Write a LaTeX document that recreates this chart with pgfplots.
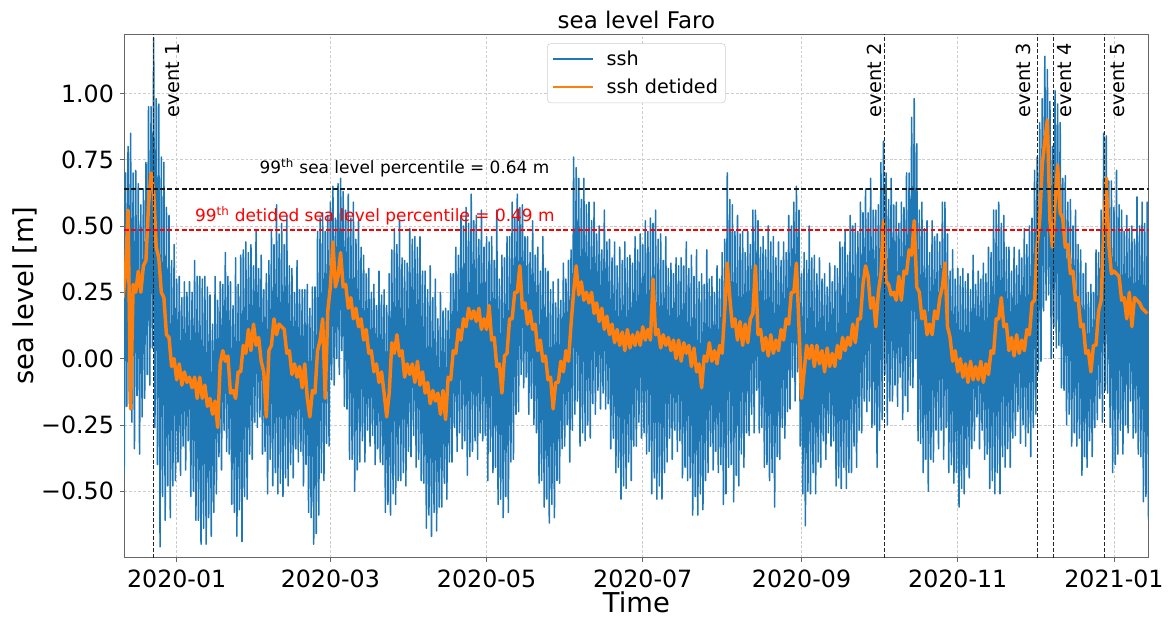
\documentclass[border=0pt]{standalone}
\usepackage{fontspec}
\setmainfont{DejaVu Sans}
\usepackage{pgfplots}
\pgfplotsset{compat=1.18}
\definecolor{tabblue}{HTML}{1F77B4}
\definecolor{taborange}{HTML}{FF7F0E}
\begin{document}
\begin{tikzpicture}
\useasboundingbox (-93.15pt,-46.1pt) rectangle (782.8pt,418.1pt);
\begin{axis}[
  at={(0pt,0pt)}, anchor=south west,
  scale only axis, width=768.2pt, height=392.6pt,
  xmin=-20.5, xmax=379.5, ymin=-0.75, ymax=1.224,
  axis line style={black!60, line width=0.6pt},
  xtick={0,60,121,182,244,305,366},
  xticklabels={2020-01,2020-03,2020-05,2020-07,2020-09,2020-11,2021-01},
  ytick={-0.5,-0.25,0,0.25,0.5,0.75,1},
  yticklabels={−0.50,−0.25,0.00,0.25,0.50,0.75,1.00},
  tick align=outside, xtick pos=left, ytick pos=left,
  major tick length=3pt,
  tick style={black!60, line width=0.6pt},
  grid=major,
  major grid style={gray!40, line width=0.5pt, dash pattern=on 2.2pt off 1.3pt},
  xticklabel style={font=\fontsize{17.8pt}{20pt}\selectfont, anchor=base, yshift=-19.35pt, inner sep=0pt},
  yticklabel style={font=\fontsize{17.8pt}{20pt}\selectfont, anchor=east, inner sep=0pt, xshift=-4.5pt},
  title={sea level Faro},
  every axis title/.style={at={(axis description cs:0.5,1.011)}, anchor=base, font=\fontsize{17.2pt}{20pt}\selectfont},
  xlabel={Time},
  every axis x label/.style={at={(axis description cs:0.5,-0.1055)}, anchor=base, font=\fontsize{20.5pt}{24pt}\selectfont},
  ylabel={sea level [m]},
  every axis y label/.style={at={(axis description cs:-0.0888,0.5)}, rotate=90, anchor=base, font=\fontsize{20.5pt}{24pt}\selectfont},
  legend style={at={(axis description cs:0.5,0.9822)}, anchor=north, draw=black!20, rounded corners=2.5pt, fill=white, font=\fontsize{14.4pt}{17pt}\selectfont, inner xsep=3.5pt, inner ysep=3.5pt, row sep=4.5pt, column sep=7.5pt},
  legend cell align=left,
  legend image code/.code={\draw[#1, line width=1.4pt] (0pt,0pt) -- (30pt,0pt);},
]
\addplot[tabblue, line width=1.15pt, line join=round] coordinates {
(-21,.74)(-20.5,-.43)(-20,.70)(-19.5,-.18)(-19,.80)(-18.5,-.17)(-18,.85)(-17.5,-.24)(-17,.70)(-16.5,-.34)
(-16,.71)(-15.5,-.14)(-15,.66)(-14.5,-.36)(-14,.58)(-13.5,-.22)(-13,.64)(-12.5,-.15)(-12,.74)(-11.5,-.06)
(-11,.95)(-10.5,-.10)(-10,.95)(-9.5,.04)(-9,1.21)(-8.5,-.26)(-8,.98)(-7.5,-.40)(-7,.96)(-6.5,-.71)
(-6,.76)(-5.5,-.52)(-5,.74)(-4.5,-.61)(-4,.57)(-3.5,-.48)(-3,.54)(-2.5,-.60)(-2,.37)(-1.5,-.48)
(-1,.43)(-0.5,-.46)(0,.30)(0.5,-.39)(1,.31)(1.5,-.44)(2,.23)(2.5,-.33)(3,.29)(3.5,-.42)
(4,.25)(4.5,-.31)(5,.29)(5.5,-.52)(6,.25)(6.5,-.50)(7,.37)(7.5,-.61)(8,.31)(8.5,-.61)
(9,.31)(9.5,-.70)(10,.30)(10.5,-.64)(11,.31)(11.5,-.70)(12,.27)(12.5,-.60)(13,.24)(13.5,-.67)
(14,.13)(14.5,-.58)(15,.31)(15.5,-.51)(16,.22)(16.5,-.37)(17,.29)(17.5,-.42)(18,.28)(18.5,-.27)
(19,.40)(19.5,-.35)(20,.31)(20.5,-.36)(21,.29)(21.5,-.55)(22,.20)(22.5,-.58)(23,.38)(23.5,-.67)
(24,.28)(24.5,-.57)(25,.39)(25.5,-.69)(26,.41)(26.5,-.52)(27,.44)(27.5,-.53)(28,.40)(28.5,-.36)
(29,.43)(29.5,-.38)(30,.35)(30.5,-.24)(31,.48)(31.5,-.26)(32,.34)(32.5,-.22)(33,.39)(33.5,-.36)
(34,.26)(34.5,-.35)(35,.32)(35.5,-.51)(36,.37)(36.5,-.38)(37,.48)(37.5,-.48)(38,.43)(38.5,-.43)
(39,.58)(39.5,-.51)(40,.47)(40.5,-.47)(41,.51)(41.5,-.52)(42,.43)(42.5,-.45)(43,.54)(43.5,-.48)
(44,.35)(44.5,-.40)(45,.34)(45.5,-.45)(46,.25)(46.5,-.34)(47,.37)(47.5,-.39)(48,.26)(48.5,-.35)
(49,.26)(49.5,-.48)(50,.26)(50.5,-.40)(51,.28)(51.5,-.58)(52,.19)(52.5,-.60)(53,.27)(53.5,-.70)
(54,.27)(54.5,-.66)(55,.48)(55.5,-.59)(56,.53)(56.5,-.43)(57,.55)(57.5,-.46)(58,.48)(58.5,-.32)
(59,.54)(59.5,-.33)(60,.59)(60.5,-.08)(61,.65)(61.5,-.10)(62,.53)(62.5,.00)(63,.66)(63.5,-.06)
(64,.68)(64.5,.03)(65,.63)(65.5,-.18)(66,.56)(66.5,-.19)(67,.62)(67.5,-.38)(68,.53)(68.5,-.38)
(69,.59)(69.5,-.50)(70,.45)(70.5,-.42)(71,.52)(71.5,-.39)(72,.42)(72.5,-.31)(73,.39)(73.5,-.39)
(74,.32)(74.5,-.27)(75,.34)(75.5,-.33)(76,.25)(76.5,-.29)(77,.28)(77.5,-.40)(78,.20)(78.5,-.34)
(79,.33)(79.5,-.39)(80,.24)(80.5,-.40)(81,.26)(81.5,-.58)(82,.20)(82.5,-.55)(83,.32)(83.5,-.59)
(84,.41)(84.5,-.51)(85,.49)(85.5,-.55)(86,.43)(86.5,-.46)(87,.52)(87.5,-.46)(88,.38)(88.5,-.43)
(89,.37)(89.5,-.48)(90,.36)(90.5,-.35)(91,.49)(91.5,-.37)(92,.45)(92.5,-.29)(93,.46)(93.5,-.41)
(94,.42)(94.5,-.38)(95,.46)(95.5,-.46)(96,.33)(96.5,-.47)(97,.33)(97.5,-.64)(98,.26)(98.5,-.59)
(99,.35)(99.5,-.67)(100,.23)(100.5,-.58)(101,.30)(101.5,-.65)(102,.15)(102.5,-.56)(103,.25)(103.5,-.56)
(104,.18)(104.5,-.47)(105,.19)(105.5,-.53)(106,.18)(106.5,-.39)(107,.32)(107.5,-.39)(108,.32)(108.5,-.26)
(109,.42)(109.5,-.35)(110,.39)(110.5,-.28)(111,.54)(111.5,-.34)(112,.50)(112.5,-.31)(113,.57)(113.5,-.44)
(114,.51)(114.5,-.37)(115,.62)(115.5,-.35)(116,.52)(116.5,-.31)(117,.54)(117.5,-.38)(118,.45)(118.5,-.28)
(119,.56)(119.5,-.31)(120,.42)(120.5,-.29)(121,.46)(121.5,-.46)(122,.44)(122.5,-.35)(123,.46)(123.5,-.43)
(124,.37)(124.5,-.41)(125,.56)(125.5,-.55)(126,.30)(126.5,-.53)(127,.39)(127.5,-.60)(128,.38)(128.5,-.52)
(129,.46)(129.5,-.58)(130,.46)(130.5,-.39)(131,.59)(131.5,-.38)(132,.53)(132.5,-.21)(133,.62)(133.5,-.20)
(134,.57)(134.5,-.06)(135,.58)(135.5,-.11)(136,.46)(136.5,-.07)(137,.46)(137.5,-.21)(138,.40)(138.5,-.15)
(139,.52)(139.5,-.25)(140,.39)(140.5,-.28)(141,.42)(141.5,-.47)(142,.33)(142.5,-.46)(143,.46)(143.5,-.56)
(144,.34)(144.5,-.53)(145,.33)(145.5,-.62)(146,.26)(146.5,-.55)(147,.29)(147.5,-.60)(148,.21)(148.5,-.46)
(149,.30)(149.5,-.47)(150,.22)(150.5,-.34)(151,.36)(151.5,-.33)(152,.30)(152.5,-.25)(153,.37)(153.5,-.39)
(154,.41)(154.5,-.27)(155,.76)(155.5,-.21)(156,.72)(156.5,-.16)(157,.68)(157.5,-.33)(158,.60)(158.5,-.28)
(159,.68)(159.5,-.31)(160,.58)(160.5,-.25)(161,.59)(161.5,-.30)(162,.52)(162.5,-.17)(163,.59)(163.5,-.21)
(164,.47)(164.5,-.12)(165,.50)(165.5,-.19)(166,.41)(166.5,-.13)(167,.56)(167.5,-.19)(168,.44)(168.5,-.17)
(169,.45)(169.5,-.34)(170,.38)(170.5,-.30)(171,.44)(171.5,-.43)(172,.35)(172.5,-.41)(173,.42)(173.5,-.53)
(174,.37)(174.5,-.48)(175,.44)(175.5,-.49)(176,.38)(176.5,-.39)(177,.39)(177.5,-.46)(178,.36)(178.5,-.33)
(179,.46)(179.5,-.33)(180,.41)(180.5,-.24)(181,.47)(181.5,-.30)(182,.43)(182.5,-.28)(183,.52)(183.5,-.36)
(184,.48)(184.5,-.35)(185,.53)(185.5,-.51)(186,.51)(186.5,-.45)(187,.56)(187.5,-.53)(188,.45)(188.5,-.48)
(189,.47)(189.5,-.53)(190,.37)(190.5,-.43)(191,.46)(191.5,-.39)(192,.34)(192.5,-.30)(193,.36)(193.5,-.38)
(194,.32)(194.5,-.27)(195,.38)(195.5,-.35)(196,.35)(196.5,-.31)(197,.38)(197.5,-.45)(198,.35)(198.5,-.41)
(199,.44)(199.5,-.46)(200,.34)(200.5,-.45)(201,.39)(201.5,-.59)(202,.31)(202.5,-.52)(203,.41)(203.5,-.59)
(204,.29)(204.5,-.51)(205,.32)(205.5,-.57)(206,.28)(206.5,-.46)(207,.41)(207.5,-.43)(208,.30)(208.5,-.33)
(209,.31)(209.5,-.42)(210,.25)(210.5,-.35)(211,.35)(211.5,-.43)(212,.30)(212.5,-.40)(213,.40)(213.5,-.55)
(214,.45)(214.5,-.51)(215,.70)(215.5,-.41)(216,.60)(216.5,-.40)(217,.58)(217.5,-.54)(218,.48)(218.5,-.44)
(219,.54)(219.5,-.48)(220,.47)(220.5,-.36)(221,.48)(221.5,-.41)(222,.40)(222.5,-.28)(223,.48)(223.5,-.29)
(224,.43)(224.5,-.21)(225,.56)(225.5,-.28)(226,.56)(226.5,-.12)(227,.52)(227.5,-.28)(228,.42)(228.5,-.26)
(229,.46)(229.5,-.41)(230,.41)(230.5,-.40)(231,.50)(231.5,-.46)(232,.44)(232.5,-.43)(233,.46)(233.5,-.56)
(234,.38)(234.5,-.37)(235,.44)(235.5,-.38)(236,.37)(236.5,-.26)(237,.44)(237.5,-.30)(238,.40)(238.5,-.20)
(239,.54)(239.5,-.19)(240,.50)(240.5,-.07)(241,.59)(241.5,-.16)(242,.65)(242.5,-.05)(243,.56)(243.5,-.33)
(244,.32)(244.5,-.51)(245,.40)(245.5,-.63)(246,.37)(246.5,-.50)(247,.50)(247.5,-.51)(248,.38)(248.5,-.43)
(249,.39)(249.5,-.51)(250,.32)(250.5,-.39)(251,.38)(251.5,-.41)(252,.30)(252.5,-.31)(253,.32)(253.5,-.38)
(254,.27)(254.5,-.28)(255,.36)(255.5,-.33)(256,.29)(256.5,-.31)(257,.35)(257.5,-.48)(258,.34)(258.5,-.45)
(259,.44)(259.5,-.49)(260,.42)(260.5,-.41)(261,.48)(261.5,-.49)(262,.39)(262.5,-.43)(263,.54)(263.5,-.43)
(264,.50)(264.5,-.33)(265,.51)(265.5,-.41)(266,.48)(266.5,-.27)(267,.59)(267.5,-.28)(268,.55)(268.5,-.16)
(269,.64)(269.5,-.20)(270,.55)(270.5,-.16)(271,.68)(271.5,-.26)(272,.56)(272.5,-.25)(273,.56)(273.5,-.41)
(274,.58)(274.5,-.27)(275,.74)(275.5,-.23)(276,.82)(276.5,-.06)(277,.70)(277.5,-.25)(278,.60)(278.5,-.16)
(279,.68)(279.5,-.16)(280,.58)(280.5,-.10)(281,.59)(281.5,-.18)(282,.51)(282.5,-.07)(283,.59)(283.5,-.23)
(284,.57)(284.5,-.14)(285,.70)(285.5,-.20)(286,.70)(286.5,-.10)(287,.91)(287.5,-.11)(288,.98)(288.5,.00)
(289,.81)(289.5,-.31)(290,.56)(290.5,-.32)(291,.59)(291.5,-.43)(292,.49)(292.5,-.38)(293,.52)(293.5,-.50)
(294,.40)(294.5,-.38)(295,.52)(295.5,-.39)(296,.46)(296.5,-.27)(297,.47)(297.5,-.34)(298,.44)(298.5,-.27)
(299,.59)(299.5,-.38)(300,.59)(300.5,-.26)(301,.47)(301.5,-.43)(302,.33)(302.5,-.40)(303,.41)(303.5,-.47)
(304,.30)(304.5,-.43)(305,.34)(305.5,-.56)(306,.31)(306.5,-.49)(307,.34)(307.5,-.51)(308,.29)(308.5,-.41)
(309,.32)(309.5,-.45)(310,.26)(310.5,-.34)(311,.39)(311.5,-.31)(312,.28)(312.5,-.22)(313,.33)(313.5,-.34)
(314,.30)(314.5,-.27)(315,.36)(315.5,-.38)(316,.32)(316.5,-.36)(317,.42)(317.5,-.49)(318,.40)(318.5,-.46)
(319,.56)(319.5,-.51)(320,.56)(320.5,-.43)(321,.59)(321.5,-.51)(322,.51)(322.5,-.37)(323,.54)(323.5,-.41)
(324,.42)(324.5,-.34)(325,.42)(325.5,-.41)(326,.33)(326.5,-.30)(327,.42)(327.5,-.29)(328,.35)(328.5,-.20)
(329,.41)(329.5,-.32)(330,.38)(330.5,-.25)(331,.49)(331.5,-.33)(332,.43)(332.5,-.28)(333,.50)(333.5,-.37)
(334,.53)(334.5,-.26)(335,.71)(335.5,-.21)(336,.76)(336.5,-.05)(337,.89)(337.5,-.01)(338,.98)(338.5,.18)
(339,1.14)(339.5,.22)(340,1.09)(340.5,.24)(341,.97)(341.5,.00)(342,.80)(342.5,.12)(343,1.01)(343.5,.04)
(344,.96)(344.5,.05)(345,.89)(345.5,-.11)(346,.68)(346.5,-.12)(347,.69)(347.5,-.25)(348,.59)(348.5,-.21)
(349,.60)(349.5,-.33)(350,.50)(350.5,-.28)(351,.56)(351.5,-.33)(352,.43)(352.5,-.30)(353,.41)(353.5,-.44)
(354,.32)(354.5,-.37)(355,.36)(355.5,-.41)(356,.25)(356.5,-.31)(357,.28)(357.5,-.37)(358,.25)(358.5,-.26)
(359,.41)(359.5,-.23)(360,.40)(360.5,-.15)(361,.56)(361.5,-.24)(362,.85)(362.5,-.12)(363,.84)(363.5,-.13)
(364,.67)(364.5,-.26)(365,.67)(365.5,-.43)(366,.57)(366.5,-.40)(367,.71)(367.5,-.36)(368,.58)(368.5,-.27)
(369,.56)(369.5,-.36)(370,.48)(370.5,-.25)(371,.54)(371.5,-.28)(372,.49)(372.5,-.16)(373,.50)(373.5,-.30)
(374,.45)(374.5,-.28)(375,.61)(375.5,-.36)(376,.50)(376.5,-.37)(377,.59)(377.5,-.54)(378,.51)(378.5,-.52)
(379,.59)(379.5,-.61)
};
\addlegendentry{ssh}
\addplot[taborange, line width=2.6pt, line join=round] coordinates {
(-21,.23)(-20,.32)(-19,.56)(-18,-.19)(-17,.28)(-16,.25)(-15,.33)(-14,.25)(-13,.35)(-12,.37)(-11,.58)(-10,.70)(-9,.63)(-8,.42)(-7,.38)(-6,.25)(-5,.23)(-4,.09)(-3,.08)(-2,-.03)(-1,.00)
(0,-.08)(1,-.02)(2,-.10)(3,-.05)(4,-.09)(5,-.07)(6,-.11)(7,-.07)(8,-.15)(9,-.07)(10,-.15)(11,-.10)(12,-.18)(13,-.15)(14,-.21)(15,-.16)(16,-.26)(17,-.02)(18,.03)(19,-.01)
(20,.01)(21,-.13)(22,-.12)(23,-.15)(24,-.05)(25,-.05)(26,.05)(27,.02)(28,.11)(29,.03)(30,.13)(31,.05)(32,.08)(33,-.01)(34,-.05)(35,-.22)(36,.03)(37,.05)(38,.15)(39,.09)
(40,.13)(41,.12)(42,.11)(43,.02)(44,.03)(45,-.06)(46,-.02)(47,-.07)(48,-.03)(49,-.11)(50,-.02)(51,-.15)(52,-.22)(53,-.12)(54,-.13)(55,.03)(56,.07)(57,.15)(58,-.15)(59,.18)
(60,.27)(61,.44)(62,.27)(63,.31)(64,.40)(65,.27)(66,.28)(67,.19)(68,.23)(69,.15)(70,.19)(71,.12)(72,.15)(73,.07)(74,.11)(75,.02)(76,.03)(77,-.05)(78,-.02)(79,-.09)
(80,-.05)(81,-.13)(82,-.22)(83,-.13)(84,.06)(85,.02)(86,.09)(87,.01)(88,.03)(89,-.07)(90,-.02)(91,-.06)(92,-.02)(93,-.09)(94,-.01)(95,-.10)(96,-.05)(97,-.13)(98,-.09)(99,-.17)
(100,-.12)(101,-.16)(102,-.13)(103,-.21)(104,-.12)(105,-.23)(106,-.07)(107,-.08)(108,.03)(109,.02)(110,.11)(111,.07)(112,.15)(113,.12)(114,.19)(115,.15)(116,.18)(117,.14)(118,.19)(119,.11)
(120,.15)(121,.11)(122,.20)(123,.07)(124,.08)(125,-.03)(126,-.02)(127,-.13)(128,.01)(129,.02)(130,.15)(131,.15)(132,.25)(133,.25)(134,.35)(135,.19)(136,.21)(137,.13)(138,.18)(139,.11)
(140,.13)(141,.03)(142,.07)(143,-.01)(144,.01)(145,-.08)(146,-.07)(147,-.19)(148,-.09)(149,-.09)(150,-.01)(151,-.05)(152,.03)(153,-.01)(154,.13)(155,.25)(156,.35)(157,.24)(158,.29)(159,.22)
(160,.25)(161,.21)(162,.25)(163,.17)(164,.21)(165,.14)(166,.19)(167,.11)(168,.16)(169,.09)(170,.13)(171,.06)(172,.11)(173,.05)(174,.10)(175,.03)(176,.11)(177,.04)(178,.09)(179,.05)
(180,.10)(181,.05)(182,.12)(183,.07)(184,.11)(185,.07)(186,.30)(187,.09)(188,.11)(189,.04)(190,.09)(191,.05)(192,.08)(193,.03)(194,.07)(195,.00)(196,.07)(197,-.01)(198,.06)(199,.02)
(200,.05)(201,-.03)(202,.04)(203,-.05)(204,-.02)(205,-.11)(206,.01)(207,-.01)(208,.06)(209,-.01)(210,.03)(211,-.02)(212,.05)(213,.02)(214,.18)(215,.36)(216,.23)(217,.12)(218,.15)(219,.07)
(220,.14)(221,.05)(222,.13)(223,.06)(224,.15)(225,.17)(226,.35)(227,.09)(228,.11)(229,.03)(230,.08)(231,.01)(232,.09)(233,.02)(234,.07)(235,.03)(236,.11)(237,.07)(238,.15)(239,.13)
(240,.25)(241,.25)(242,.36)(243,.12)(244,-.15)(245,-.05)(246,.05)(247,.00)(248,.05)(249,-.03)(250,.05)(251,-.02)(252,.03)(253,-.05)(254,.04)(255,-.03)(256,.02)(257,-.03)(258,.05)(259,.00)
(260,.08)(261,.03)(262,.08)(263,.05)(264,.13)(265,.06)(266,.15)(267,.15)(268,.28)(269,.35)(270,.31)(271,.19)(272,.23)(273,.12)(274,.25)(275,.32)(276,.52)(277,.29)(278,.28)(279,.24)
(280,.25)(281,.22)(282,.31)(283,.22)(284,.33)(285,.32)(286,.41)(287,.39)(288,.52)(289,.27)(290,.25)(291,.15)(292,.18)(293,.09)(294,.13)(295,.09)(296,.18)(297,.15)(298,.23)(299,.27)
(300,.36)(301,.12)(302,.08)(303,-.01)(304,.03)(305,-.05)(306,.00)(307,-.07)(308,-.02)(309,-.09)(310,-.01)(311,-.08)(312,-.03)(313,-.08)(314,-.01)(315,-.09)(316,-.02)(317,-.06)(318,.03)(319,.02)
(320,.15)(321,.15)(322,.23)(323,.12)(324,.13)(325,.03)(326,.08)(327,.01)(328,.09)(329,.02)(330,.07)(331,.03)(332,.11)(333,.09)(334,.21)(335,.22)(336,.43)(337,.52)(338,.73)(339,.82)
(340,.90)(341,.52)(342,.42)(343,.59)(344,.73)(345,.55)(346,.53)(347,.42)(348,.43)(349,.32)(350,.33)(351,.22)(352,.23)(353,.12)(354,.13)(355,.02)(356,.03)(357,-.05)(358,.05)(359,.05)
(360,.18)(361,.22)(362,.48)(363,.68)(364,.43)(365,.32)(366,.33)(367,.32)(368,.31)(369,.22)(370,.23)(371,.15)(372,.25)(373,.12)(374,.23)(375,.22)(376,.21)(377,.19)(378,.18)(379,.17)
};
\addlegendentry{ssh detided}
% percentile lines
\addplot[black!90, line width=1.3pt, dash pattern=on 3.6pt off 1.8pt, forget plot] coordinates {(-20.5,0.64) (379.5,0.64)};
\addplot[red, line width=1.3pt, dash pattern=on 3.6pt off 1.8pt, forget plot] coordinates {(-20.5,0.485) (379.5,0.485)};
% event lines
\addplot[black!85, line width=0.75pt, dash pattern=on 3pt off 1.4pt, forget plot] coordinates {(-9.0,-0.75) (-9.0,1.224)};
\addplot[black!85, line width=0.75pt, dash pattern=on 3pt off 1.4pt, forget plot] coordinates {(276.4,-0.75) (276.4,1.224)};
\addplot[black!85, line width=0.75pt, dash pattern=on 3pt off 1.4pt, forget plot] coordinates {(336.3,-0.75) (336.3,1.224)};
\addplot[black!85, line width=0.75pt, dash pattern=on 3pt off 1.4pt, forget plot] coordinates {(342.4,-0.75) (342.4,1.224)};
\addplot[black!85, line width=0.75pt, dash pattern=on 3pt off 1.4pt, forget plot] coordinates {(362.3,-0.75) (362.3,1.224)};
% annotations
\node[anchor=base west, inner sep=0pt, font=\fontsize{12.7pt}{15pt}\selectfont] at (axis cs:32.3,0.699) {99\textsuperscript{th} sea level percentile = 0.64 m};
\node[anchor=base west, inner sep=0pt, text=red, font=\fontsize{12.7pt}{15pt}\selectfont] at (axis cs:7.1,0.517) {99\textsuperscript{th} detided sea level percentile = 0.49 m};
\node[rotate=90, anchor=east, inner sep=0pt, font=\fontsize{14.5pt}{17pt}\selectfont] at (axis cs:-1.45,1.189) {event 1};
\node[rotate=90, anchor=east, inner sep=0pt, font=\fontsize{14.5pt}{17pt}\selectfont] at (axis cs:272.4,1.189) {event 2};
\node[rotate=90, anchor=east, inner sep=0pt, font=\fontsize{14.5pt}{17pt}\selectfont] at (axis cs:330.5,1.189) {event 3};
\node[rotate=90, anchor=east, inner sep=0pt, font=\fontsize{14.5pt}{17pt}\selectfont] at (axis cs:346.8,1.189) {event 4};
\node[rotate=90, anchor=east, inner sep=0pt, font=\fontsize{14.5pt}{17pt}\selectfont] at (axis cs:367.6,1.189) {event 5};
\end{axis}
\end{tikzpicture}
\end{document}
